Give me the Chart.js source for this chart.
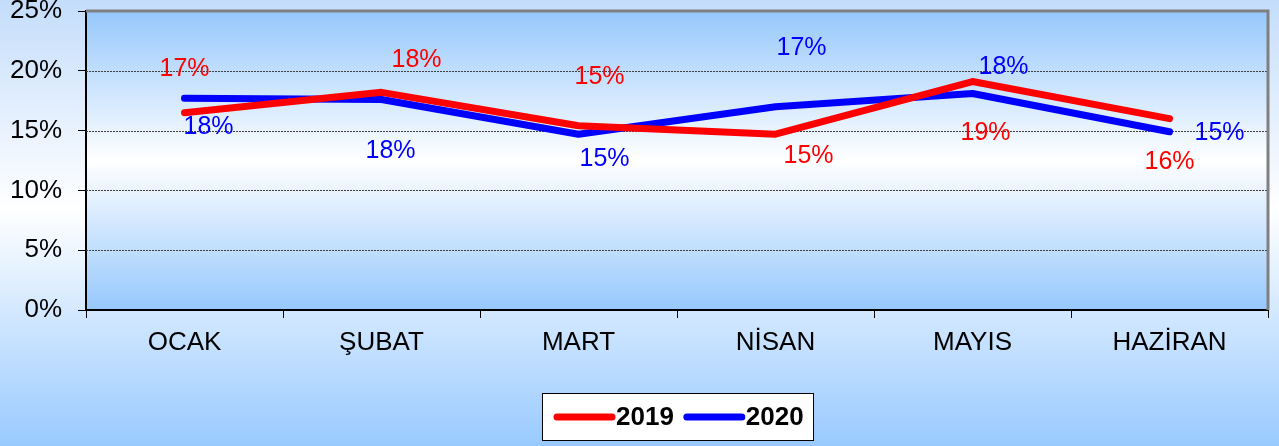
<!DOCTYPE html>
<html>
<head>
<meta charset="utf-8">
<script src="https://cdn.jsdelivr.net/npm/chart.js@4.4.1/dist/chart.umd.min.js"></script>
<style>
  html, body { margin: 0; padding: 0; }
  #wrap { width: 1279px; height: 446px; }
</style>
</head>
<body>
<div id="wrap"><canvas id="myChart" width="1279" height="446"></canvas></div>
<script>
// chart data
const months = ['OCAK', 'ŞUBAT', 'MART', 'NİSAN', 'MAYIS', 'HAZİRAN'];
const values2019 = [16.5, 18.2, 15.4, 14.7, 19.1, 16.0];
const values2020 = [17.7, 17.6, 14.7, 17.0, 18.1, 14.9];
const yTicks = [0, 5, 10, 15, 20, 25];

// where each value label sits relative to its point (px)
const labelOffsets = [
    [[0, -44], [35, -32], [21, -49], [33, 22], [13, 52], [0, 43]],
    [[24, 29], [9, 52], [26, 25], [26, -59], [31, -26], [50, 1]]
];

const FONT = '"Liberation Sans", Arial, sans-serif';

const backgroundPlugin = {
    id: 'bg',
    beforeDraw(chart) {
        const { ctx, width, height, chartArea: a } = chart;
        ctx.save();
        // page gradient
        let g = ctx.createLinearGradient(0, 0, 0, height);
        g.addColorStop(0, '#c4ddfb');
        g.addColorStop(0.47, '#ffffff');
        g.addColorStop(1, '#99caff');
        ctx.fillStyle = g;
        ctx.fillRect(0, 0, width, height);
        // plot area gradient
        g = ctx.createLinearGradient(0, a.top, 0, a.bottom);
        g.addColorStop(0, '#96c8fc');
        g.addColorStop(0.5, '#ffffff');
        g.addColorStop(1, '#96c8fc');
        ctx.fillStyle = g;
        ctx.fillRect(a.left, a.top, a.right - a.left, a.bottom - a.top);
        ctx.restore();
    },
    beforeDatasetsDraw(chart) {
        const { ctx, chartArea: a, scales } = chart;
        ctx.save();
        // dotted grid lines
        ctx.strokeStyle = '#404040';
        ctx.lineWidth = 1;
        ctx.setLineDash([2, 1]);
        yTicks.slice(1, -1).forEach(v => {
            const y = Math.round(scales.y.getPixelForValue(v)) + 0.5;
            ctx.beginPath();
            ctx.moveTo(a.left, y);
            ctx.lineTo(a.right, y);
            ctx.stroke();
        });
        ctx.setLineDash([]);
        // top and right border
        ctx.strokeStyle = '#808080';
        ctx.lineWidth = 3;
        ctx.beginPath();
        ctx.moveTo(a.left, a.top);
        ctx.lineTo(a.right, a.top);
        ctx.lineTo(a.right, a.bottom);
        ctx.stroke();
        ctx.restore();
    },
    afterDatasetsDraw(chart) {
        const { ctx } = chart;
        ctx.save();
        ctx.font = '25px ' + FONT;
        ctx.textAlign = 'center';
        ctx.textBaseline = 'middle';
        chart.data.datasets.forEach((ds, i) => {
            const meta = chart.getDatasetMeta(i);
            ctx.fillStyle = ds.borderColor;
            meta.data.forEach((pt, j) => {
                const off = labelOffsets[i][j];
                ctx.fillText(Math.round(ds.data[j]) + '%', pt.x + off[0], pt.y + off[1]);
            });
        });
        ctx.restore();
    },
    afterDraw(chart) {
        // legend box
        const { ctx, chartArea: a } = chart;
        const w = 271, h = 47, top = 393;
        const left = Math.round((a.left + a.right) / 2 - w / 2);
        ctx.save();
        ctx.fillStyle = '#ffffff';
        ctx.fillRect(left, top, w, h);
        ctx.strokeStyle = '#000000';
        ctx.lineWidth = 1;
        ctx.strokeRect(left + 0.5, top + 0.5, w, h);
        ctx.font = 'bold 26px ' + FONT;
        ctx.textBaseline = 'middle';
        ctx.lineCap = 'round';
        ctx.lineWidth = 7;
        let x = left + 15;
        const cy = top + 24;
        chart.data.datasets.forEach(ds => {
            ctx.strokeStyle = ds.borderColor;
            ctx.beginPath();
            ctx.moveTo(x, cy);
            ctx.lineTo(x + 55, cy);
            ctx.stroke();
            ctx.fillStyle = '#000000';
            ctx.fillText(ds.label, x + 59, cy + 1);
            x += 59 + ctx.measureText(ds.label).width + 13;
        });
        ctx.restore();
    }
};

const ctx = document.getElementById('myChart').getContext('2d');

new Chart(ctx, {
    type: 'line',
    data: {
        labels: months,
        datasets: [
            {
                label: '2019',
                data: values2019,
                borderColor: '#ff0000',
                borderWidth: 7,
                borderCapStyle: 'round',
                borderJoinStyle: 'round',
                pointRadius: 0,
                tension: 0,
                fill: false
            },
            {
                label: '2020',
                data: values2020,
                borderColor: '#0000ff',
                borderWidth: 7,
                borderCapStyle: 'round',
                borderJoinStyle: 'round',
                pointRadius: 0,
                tension: 0,
                fill: false
            }
        ]
    },
    options: {
        responsive: false,
        animation: false,
        layout: { padding: { top: 11, right: 11, left: 0, bottom: 0 } },
        plugins: {
            legend: { display: false },
            tooltip: { enabled: false }
        },
        scales: {
            x: {
                offset: true,
                grid: { drawOnChartArea: false, offset: true, tickLength: 8, tickColor: '#000', tickWidth: 1 },
                border: { color: '#000', width: 2 },
                ticks: { color: '#000', font: { family: FONT, size: 26 }, padding: 9, maxRotation: 0 },
                afterFit(scale) {
                    scale.height = 136;
                    scale.paddingLeft = 0;
                    scale.paddingRight = 0;
                }
            },
            y: {
                min: 0,
                max: 25,
                grid: { drawOnChartArea: false, tickLength: 8, tickColor: '#000', tickWidth: 1 },
                border: { color: '#000', width: 2 },
                ticks: {
                    stepSize: 5,
                    color: '#000',
                    font: { family: FONT, size: 26 },
                    padding: 16,
                    callback: v => v + '%'
                },
                afterFit(scale) {
                    scale.width = 86;
                    scale.paddingTop = 0;
                    scale.paddingBottom = 0;
                }
            }
        }
    },
    plugins: [backgroundPlugin]
});
</script>
</body>
</html>
